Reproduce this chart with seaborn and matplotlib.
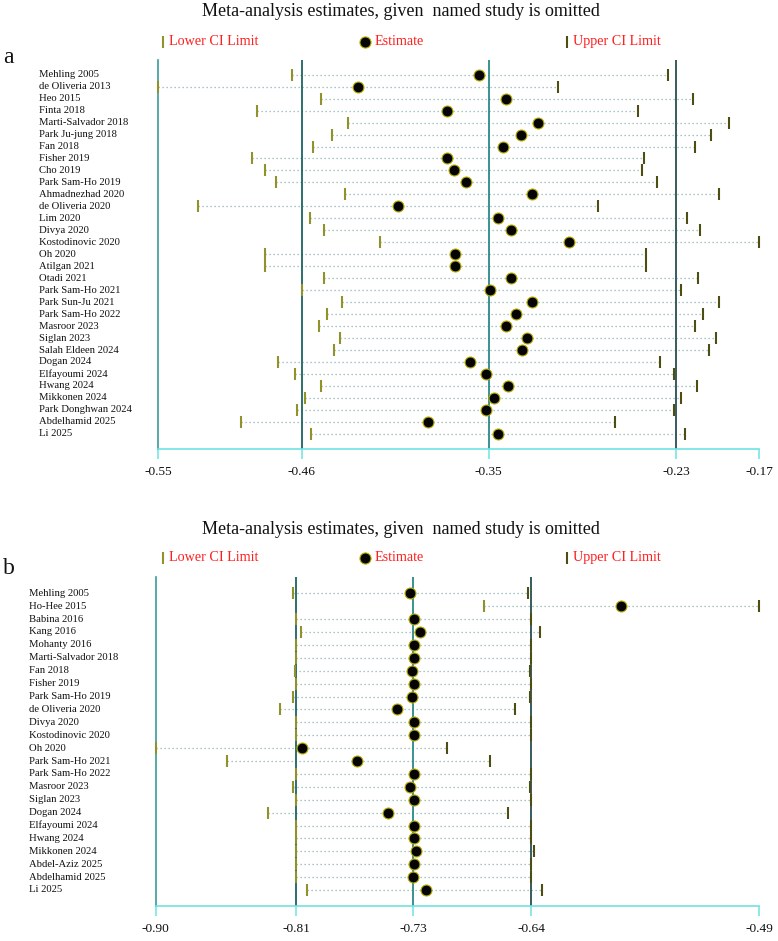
import numpy as np
import pandas as pd
import matplotlib
matplotlib.use("Agg")
import matplotlib.pyplot as plt
import seaborn as sns
from matplotlib import transforms

# ---------------- data: panel a ----------------
studies_a = ["Mehling 2005", "de Oliveria 2013", "Heo 2015", "Finta 2018", "Marti-Salvador 2018",
             "Park Ju-jung 2018", "Fan 2018", "Fisher 2019", "Cho 2019", "Park Sam-Ho 2019",
             "Ahmadnezhad 2020", "de Oliveria 2020", "Lim 2020", "Divya 2020", "Kostodinovic 2020",
             "Oh 2020", "Atilgan 2021", "Otadi 2021", "Park Sam-Ho 2021", "Park Sun-Ju 2021",
             "Park Sam-Ho 2022", "Masroor 2023", "Siglan 2023", "Salah Eldeen 2024", "Dogan 2024",
             "Elfayoumi 2024", "Hwang 2024", "Mikkonen 2024", "Park Donghwan 2024",
             "Abdelhamid 2025", "Li 2025"]
lower_a = [-0.468, -0.552, -0.450, -0.490, -0.433, -0.443, -0.455, -0.493, -0.485, -0.478,
           -0.435, -0.527, -0.457, -0.448, -0.413, -0.485, -0.485, -0.448, -0.462, -0.437,
           -0.446, -0.451, -0.438, -0.442, -0.477, -0.466, -0.450, -0.460, -0.465, -0.500, -0.456]
est_a = [-0.351, -0.427, -0.334, -0.371, -0.314, -0.325, -0.336, -0.371, -0.367, -0.359,
         -0.318, -0.402, -0.339, -0.331, -0.295, -0.366, -0.366, -0.331, -0.344, -0.318,
         -0.328, -0.334, -0.321, -0.324, -0.357, -0.347, -0.333, -0.342, -0.347, -0.383, -0.339]
upper_a = [-0.233, -0.302, -0.217, -0.252, -0.195, -0.206, -0.216, -0.248, -0.249, -0.240,
           -0.201, -0.277, -0.221, -0.213, -0.176, -0.247, -0.247, -0.214, -0.225, -0.201,
           -0.211, -0.216, -0.203, -0.207, -0.238, -0.229, -0.215, -0.225, -0.229, -0.266, -0.222]
ticks_a = [-0.552, -0.462, -0.345, -0.228, -0.176]
ticklabels_a = ["-0.55", "-0.46", "-0.35", "-0.23", "-0.17"]
overall_a = [-0.462, -0.345, -0.228]   # lower CI, estimate, upper CI

# ---------------- data: panel b ----------------
studies_b = ["Mehling 2005", "Ho-Hee 2015", "Babina 2016", "Kang 2016", "Mohanty 2016",
             "Marti-Salvador 2018", "Fan 2018", "Fisher 2019", "Park Sam-Ho 2019",
             "de Oliveria 2020", "Divya 2020", "Kostodinovic 2020", "Oh 2020", "Park Sam-Ho 2021",
             "Park Sam-Ho 2022", "Masroor 2023", "Siglan 2023", "Dogan 2024", "Elfayoumi 2024",
             "Hwang 2024", "Mikkonen 2024", "Abdel-Aziz 2025", "Abdelhamid 2025", "Li 2025"]
lower_b = [-0.807, -0.678, -0.805, -0.802, -0.805, -0.805, -0.806, -0.805, -0.807, -0.816,
           -0.805, -0.805, -0.900, -0.852, -0.805, -0.807, -0.805, -0.824, -0.805, -0.805,
           -0.805, -0.805, -0.805, -0.798]
est_b = [-0.728, -0.585, -0.725, -0.721, -0.725, -0.725, -0.727, -0.725, -0.727, -0.737,
         -0.725, -0.725, -0.801, -0.764, -0.725, -0.728, -0.725, -0.743, -0.725, -0.725,
         -0.724, -0.725, -0.726, -0.717]
upper_b = [-0.648, -0.492, -0.646, -0.640, -0.646, -0.646, -0.647, -0.646, -0.647, -0.657,
           -0.646, -0.646, -0.703, -0.674, -0.646, -0.647, -0.646, -0.662, -0.646, -0.646,
           -0.644, -0.646, -0.646, -0.639]
ticks_b = [-0.900, -0.805, -0.726, -0.646, -0.492]
ticklabels_b = ["-0.90", "-0.81", "-0.73", "-0.64", "-0.49"]
overall_b = [-0.805, -0.726, -0.646]

TITLE = "Meta-analysis estimates, given  named study is omitted"

# ---------------- style ----------------
sns.set_theme(style="white")
SERIF = ["Liberation Serif", "DejaVu Serif"]
plt.rcParams["font.family"] = SERIF

W, H = 778, 941
fig = plt.figure(figsize=(W / 100, H / 100), dpi=100)

C_LO = "#92922c"
C_UP = "#4d4d14"
C_DOT_EDGE = "#b8ae00"
C_DOT = "#050505"
C_DOTTED = "#8db4b4"
C_LEFT = "#3a9c9c"
C_VL = ["#1f6262", "#2a8888", "#284f4f"]
C_AX = "#6fe3e3"
C_RED = "#ff2020"


def px_rect(x0, y0, x1, y1):
    return [x0 / W, 1 - y1 / H, (x1 - x0) / W, (y1 - y0) / H]


def panel(ax, studies, lo, est, up, ticks, tlabels, overall,
          row0_px, step_px, top_px, bot_px, label_x_px):
    n = len(studies)
    df = pd.DataFrame({"study": studies, "row": np.arange(n), "lo": lo, "est": est, "up": up})
    ax.set_xlim(ticks[0], ticks[-1])
    ax.set_ylim((bot_px - row0_px) / step_px, (top_px - row0_px) / step_px)

    ax.hlines(df["row"], df["lo"], df["up"], colors=C_DOTTED, linestyles=(0, (1, 2.2)),
              linewidth=0.9, zorder=1)
    for v, c in zip(overall, C_VL):
        ax.axvline(v, color=c, lw=1.3, zorder=2)

    sns.scatterplot(data=df, x="lo", y="row", marker="|", s=80, color=C_LO,
                    linewidth=1.5, ax=ax, legend=False, zorder=3, clip_on=False)
    sns.scatterplot(data=df, x="up", y="row", marker="|", s=80, color=C_UP,
                    linewidth=1.5, ax=ax, legend=False, zorder=3, clip_on=False)
    sns.scatterplot(data=df, x="est", y="row", marker="o", s=62, color=C_DOT,
                    edgecolor=C_DOT_EDGE, linewidth=0.8, ax=ax, legend=False, zorder=4,
                    clip_on=False)

    for s in ["top", "right"]:
        ax.spines[s].set_visible(False)
    ax.spines["left"].set_color(C_LEFT)
    ax.spines["left"].set_linewidth(1.2)
    ax.spines["bottom"].set_color(C_AX)
    ax.spines["bottom"].set_linewidth(1.2)
    ax.set_yticks([])
    ax.set_xticks(ticks)
    ax.set_xticklabels(tlabels)
    ax.tick_params(axis="x", bottom=True, direction="out", length=7.5, width=1.1,
                   color=C_AX, pad=5, labelsize=9.6, labelcolor="#111111")
    for t in ax.get_xticklabels():
        t.set_fontfamily(SERIF)
    ax.set_xlabel("")
    ax.set_ylabel("")
    ax.patch.set_alpha(0)

    tr = transforms.blended_transform_factory(fig.transFigure, ax.transData)
    for r, name in zip(df["row"], df["study"]):
        ax.text(label_x_px / W, r, name, transform=tr, ha="left", va="center",
                fontsize=7.7, family=SERIF, color="#111111")


ax_a = fig.add_axes(px_rect(158, 60, 759, 449))
panel(ax_a, studies_a, lower_a, est_a, upper_a, ticks_a, ticklabels_a, overall_a,
      74.7, 11.97, 60, 449, 39)

ax_b = fig.add_axes(px_rect(155.7, 577, 759, 906))
panel(ax_b, studies_b, lower_b, est_b, upper_b, ticks_b, ticklabels_b, overall_b,
      593.3, 12.9, 577, 906, 29.3)

# ---------------- titles, legends, panel letters ----------------
ov = fig.add_axes([0, 0, 1, 1], zorder=-1)
ov.set_xlim(0, W)
ov.set_ylim(H, 0)
ov.axis("off")

for title_y, leg_y, letter, letter_y in [(11, 41.7, "a", 57), (529, 557.7, "b", 569)]:
    ov.text(401, title_y, TITLE, ha="center", va="center", fontsize=13, family=SERIF,
            color="#111111")
    ov.plot([163], [leg_y], marker="|", ms=9, mew=1.5, color=C_LO, ls="none")
    ov.text(169, leg_y, "Lower CI Limit", ha="left", va="center", fontsize=10.2,
            family=SERIF, color=C_RED)
    ov.plot([365], [leg_y], marker="o", ms=8, mfc=C_DOT, mec=C_DOT_EDGE, mew=0.8, ls="none")
    ov.text(375, leg_y, "Estimate", ha="left", va="center", fontsize=10.2,
            family=SERIF, color=C_RED)
    ov.plot([567], [leg_y], marker="|", ms=9, mew=1.5, color=C_UP, ls="none")
    ov.text(573, leg_y, "Upper CI Limit", ha="left", va="center", fontsize=10.2,
            family=SERIF, color=C_RED)
    ov.text(3, letter_y, letter, ha="left", va="center", fontsize=17, family=SERIF,
            color="#111111")

fig.savefig("out.png", dpi=100)
